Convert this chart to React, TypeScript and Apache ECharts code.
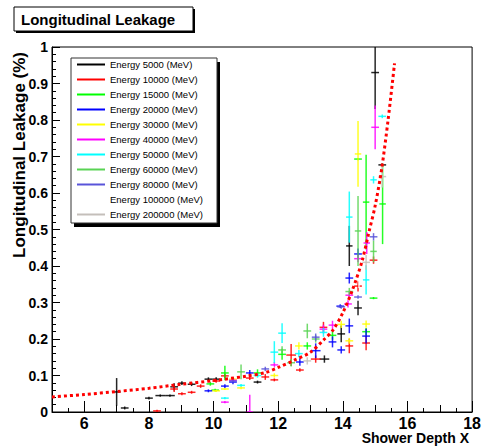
import React, { useEffect, useRef } from "react";
import * as echarts from "echarts";

// ---------- data ----------
const seriesNames = [
  "Energy 5000 (MeV)",
  "Energy 10000 (MeV)",
  "Energy 15000 (MeV)",
  "Energy 20000 (MeV)",
  "Energy 30000 (MeV)",
  "Energy 40000 (MeV)",
  "Energy 50000 (MeV)",
  "Energy 60000 (MeV)",
  "Energy 80000 (MeV)",
  "Energy 100000 (MeV)",
  "Energy 200000 (MeV)",
];
const seriesColors = [
  "#000000", "#ff0000", "#00ff00", "#0000ff", "#ffff00", "#ff00ff",
  "#00ffff", "#59d354", "#5954d9", "#ffffff", "#c4bfba",
];

// each point: [x, y, xErr, yErr]
const e5000 = [
  [7.0, 0.055, 0.12, 0.038], [7.25, 0.011, 0.12, 0.004], [8.0, 0.038, 0.12, 0.004],
  [8.35, 0.045, 0.15, 0.003], [8.65, 0.045, 0.15, 0.003], [8.78, 0.069, 0.12, 0.01],
  [9.02, 0.079, 0.12, 0.005], [9.32, 0.076, 0.12, 0.005], [9.84, 0.09, 0.12, 0.005],
  [10.08, 0.09, 0.12, 0.005], [11.36, 0.082, 0.12, 0.004], [13.43, 0.145, 0.15, 0.01],
  [13.95, 0.214, 0.12, 0.023], [14.2, 0.455, 0.1, 0.055], [14.47, 0.285, 0.12, 0.02],
  [15.0, 0.93, 0.12, 0.1], [15.22, 0.677, 0.12, 0.004],
];
const e10000 = [
  [8.25, 0.003, 0.12, 0.003], [8.78, 0.063, 0.12, 0.008], [9.02, 0.05, 0.12, 0.004],
  [9.32, 0.054, 0.12, 0.004], [9.6, 0.071, 0.12, 0.005], [10.08, 0.085, 0.12, 0.005],
  [10.35, 0.099, 0.12, 0.006], [11.12, 0.093, 0.12, 0.005], [11.6, 0.096, 0.12, 0.008],
  [11.88, 0.088, 0.12, 0.004], [12.4, 0.156, 0.15, 0.03], [12.67, 0.115, 0.12, 0.005],
  [13.16, 0.145, 0.15, 0.01], [13.4, 0.232, 0.12, 0.015], [14.2, 0.181, 0.12, 0.02],
  [14.47, 0.345, 0.12, 0.015], [14.72, 0.189, 0.12, 0.02], [14.95, 0.416, 0.12, 0.01],
];
const e15000 = [
  [9.9, 0.077, 0.12, 0.005], [10.05, 0.06, 0.12, 0.004], [10.35, 0.107, 0.12, 0.02],
  [11.36, 0.107, 0.12, 0.01], [12.12, 0.158, 0.12, 0.015], [12.9, 0.181, 0.12, 0.01],
  [13.68, 0.21, 0.12, 0.012], [14.72, 0.22, 0.12, 0.01], [14.95, 0.312, 0.12, 0.003],
  [14.47, 0.693, 0.12, 0.003], [14.72, 0.575, 0.1, 0.13], [15.23, 0.57, 0.1, 0.11],
];
const e20000 = [
  [9.84, 0.058, 0.12, 0.004], [10.35, 0.071, 0.12, 0.005], [10.6, 0.082, 0.12, 0.006],
  [11.12, 0.107, 0.12, 0.008], [12.67, 0.137, 0.12, 0.01], [13.16, 0.168, 0.15, 0.02],
  [13.68, 0.192, 0.12, 0.015], [13.95, 0.17, 0.12, 0.01], [14.2, 0.236, 0.12, 0.02],
  [14.72, 0.208, 0.12, 0.02], [14.2, 0.367, 0.12, 0.015], [14.47, 0.433, 0.12, 0.015],
  [13.92, 0.29, 0.12, 0.005],
];
const e30000 = [
  [10.08, 0.058, 0.12, 0.003], [10.35, 0.063, 0.12, 0.003], [10.6, 0.09, 0.12, 0.005],
  [10.85, 0.066, 0.12, 0.004], [11.88, 0.1, 0.12, 0.006], [12.64, 0.181, 0.12, 0.01],
  [13.95, 0.24, 0.12, 0.01], [14.2, 0.195, 0.12, 0.008], [14.72, 0.241, 0.12, 0.01],
  [14.47, 0.707, 0.1, 0.09],
];
const e40000 = [
  [10.35, 0.027, 0.12, 0.003], [11.12, 0.0, 0.1, 0.047], [10.6, 0.087, 0.12, 0.005],
  [11.88, 0.129, 0.12, 0.008], [13.4, 0.227, 0.12, 0.012], [13.68, 0.238, 0.12, 0.012],
  [14.16, 0.296, 0.12, 0.01], [14.2, 0.32, 0.12, 0.01], [14.47, 0.42, 0.12, 0.01],
  [14.74, 0.463, 0.1, 0.03], [15.0, 0.78, 0.12, 0.06],
];
const e50000 = [
  [10.35, 0.038, 0.12, 0.003], [10.85, 0.073, 0.12, 0.004], [11.36, 0.1, 0.12, 0.006],
  [11.88, 0.164, 0.12, 0.03], [12.12, 0.216, 0.12, 0.027], [12.64, 0.16, 0.12, 0.01],
  [13.4, 0.218, 0.12, 0.012], [14.2, 0.534, 0.1, 0.07], [14.72, 0.362, 0.1, 0.04],
  [14.95, 0.636, 0.1, 0.01], [15.22, 0.81, 0.12, 0.005],
];
const e60000 = [
  [10.85, 0.11, 0.12, 0.02], [12.12, 0.17, 0.12, 0.01], [12.4, 0.135, 0.12, 0.01],
  [12.9, 0.222, 0.12, 0.02], [13.16, 0.2, 0.12, 0.01], [14.2, 0.33, 0.12, 0.01],
  [14.47, 0.496, 0.1, 0.096], [14.95, 0.44, 0.1, 0.03],
];
const e80000 = [
  [10.6, 0.085, 0.12, 0.005], [11.6, 0.118, 0.12, 0.006], [13.16, 0.205, 0.12, 0.01],
  [13.95, 0.288, 0.12, 0.005], [14.47, 0.315, 0.12, 0.005], [14.95, 0.48, 0.12, 0.01],
];
const e100000 = [
  [11.85, 0.12, 0.12, 0.005], [13.4, 0.19, 0.12, 0.01], [14.5, 0.36, 0.12, 0.02],
];
const e200000 = [
  [12.9, 0.14, 0.12, 0.01], [14.72, 0.41, 0.12, 0.02], [15.22, 0.645, 0.12, 0.03],
];
const seriesData = [
  e5000, e10000, e15000, e20000, e30000, e40000, e50000, e60000, e80000, e100000, e200000,
];

// fitted leakage curve
const fitX = [5, 6, 7, 8, 9, 10, 11, 11.6, 12, 12.5, 13, 13.4, 13.7, 14.0, 14.3, 14.6, 14.8, 15.0, 15.2, 15.4, 15.6];
const fitY = [0.041, 0.048, 0.056, 0.065, 0.076, 0.086, 0.098, 0.108, 0.122, 0.142, 0.164, 0.197, 0.225, 0.272, 0.335, 0.415, 0.49, 0.565, 0.665, 0.8, 0.955];

const xTickLabels = [6, 8, 10, 12, 14, 16, 18];
const yTickLabels = [0, 0.1, 0.2, 0.3, 0.4, 0.5, 0.6, 0.7, 0.8, 0.9, 1];

const FONT = "'Liberation Sans', Arial, Helvetica, sans-serif";

export default function App() {
  const ref = useRef<HTMLDivElement>(null);

  useEffect(() => {
    const chart = echarts.init(ref.current!, null, { renderer: "svg" });

    const errSeries = seriesNames.map((name, i) => ({
      type: "custom",
      name,
      clip: true,
      z: 3,
      color: seriesColors[i],
      itemStyle: { color: seriesColors[i] },
      data: seriesData[i],
      encode: { x: 0, y: 1 },
      renderItem: (params: any, api: any) => {
        const x = api.value(0);
        const y = api.value(1);
        const ex = api.value(2);
        const ey = api.value(3);
        const l = api.coord([x - ex, y]);
        const r = api.coord([x + ex, y]);
        const t = api.coord([x, y + ey]);
        const b = api.coord([x, y - ey]);
        const style = { stroke: seriesColors[i], lineWidth: 1.5, opacity: 0.85 };
        return {
          type: "group",
          children: [
            { type: "line", shape: { x1: l[0], y1: l[1], x2: r[0], y2: r[1] }, style },
            { type: "line", shape: { x1: t[0], y1: t[1], x2: b[0], y2: b[1] }, style },
          ],
        };
      },
    }));

    const fitSeries = {
      type: "line",
      name: "fit",
      data: fitX.map((x, k) => [x, fitY[k]]),
      smooth: 0.3,
      symbol: "none",
      z: 5,
      lineStyle: { color: "#ff0000", width: 3, type: [3, 3] },
    };

    const option: any = {
      animation: false,
      backgroundColor: "#ffffff",
      grid: {
        left: 52,
        right: 7,
        top: 47,
        bottom: 36,
        show: true,
        borderColor: "#000000",
        borderWidth: 1,
        backgroundColor: "transparent",
      },
      xAxis: [
        {
          type: "value",
          min: 5,
          max: 18,
          interval: 1,
          position: "bottom",
          axisLine: { show: true, lineStyle: { color: "#000", width: 1 } },
          axisTick: { show: true, inside: true, length: 7, lineStyle: { color: "#000" } },
          minorTick: { show: true, splitNumber: 2, length: 4, lineStyle: { color: "#000" } },
          splitLine: { show: false },
          minorSplitLine: { show: false },
          axisLabel: {
            customValues: xTickLabels,
            fontFamily: FONT,
            fontWeight: "bold",
            fontSize: 16,
            color: "#000",
            margin: 3,
          },
        },
        {
          type: "value",
          min: 5,
          max: 18,
          position: "bottom",
          axisLine: { show: false },
          axisTick: { show: true, inside: true, length: 11, customValues: xTickLabels, lineStyle: { color: "#000" } },
          axisLabel: { show: false },
          splitLine: { show: false },
        },
      ],
      yAxis: {
        type: "value",
        min: 0,
        max: 1,
        interval: 0.1,
        axisLine: { show: true, lineStyle: { color: "#000", width: 1 } },
        axisTick: { show: true, inside: true, length: 8, lineStyle: { color: "#000" } },
        minorTick: { show: true, splitNumber: 5, length: 4, lineStyle: { color: "#000" } },
        splitLine: { show: false },
        axisLabel: {
          customValues: yTickLabels,
          formatter: (v: number) => String(Math.round(v * 10) / 10),
          fontFamily: FONT,
          fontWeight: "bold",
          fontSize: 14,
          color: "#000",
          margin: 4,
        },
      },
      legend: {
        orient: "vertical",
        left: 77,
        top: 58,
        z: 10,
        padding: 0,
        itemGap: 2,
        itemWidth: 28,
        itemHeight: 2,
        icon: "rect",
        selectedMode: false,
        data: seriesNames.map((n, i) => ({ name: n, icon: "rect", itemStyle: { color: seriesColors[i] } })),
        textStyle: { fontFamily: FONT, fontSize: 9.5, color: "#000", lineHeight: 13 },
      },
      graphic: [
        // title box
        { type: "rect", z: 20, shape: { x: 16, y: 9, width: 179, height: 24 }, style: { fill: "#000" } },
        { type: "rect", z: 21, shape: { x: 14, y: 7, width: 179, height: 24 }, style: { fill: "#fff", stroke: "#000", lineWidth: 1 } },
        {
          type: "text", z: 22, x: 21, y: 19.5,
          style: { text: "Longitudinal Leakage", fontFamily: FONT, fontWeight: "bold", fontSize: 15, fill: "#000", textVerticalAlign: "middle" },
        },
        // legend box
        { type: "rect", z: 1, shape: { x: 74, y: 62, width: 146, height: 165 }, style: { fill: "#000" } },
        { type: "rect", z: 2, shape: { x: 71, y: 58, width: 146, height: 165 }, style: { fill: "#fff", stroke: "#333", lineWidth: 1 } },
        // axis titles
        {
          type: "text", z: 22, x: 19, y: 52, rotation: Math.PI / 2,
          style: { text: "Longitudinal Leakage (%)", fontFamily: FONT, fontWeight: "bold", fontSize: 17, fill: "#000", textAlign: "right", textVerticalAlign: "middle" },
        },
        {
          type: "text", z: 22, x: 469, y: 438,
          style: { text: "Shower Depth X", fontFamily: FONT, fontWeight: "bold", fontSize: 14, fill: "#000", textAlign: "right", textVerticalAlign: "middle" },
        },
      ],
      series: [...errSeries, fitSeries],
    };

    chart.setOption(option);
    return () => chart.dispose();
  }, []);

  return <div ref={ref} style={{ position: "fixed", left: 0, top: 0, width: 484, height: 448 }} />;
}
